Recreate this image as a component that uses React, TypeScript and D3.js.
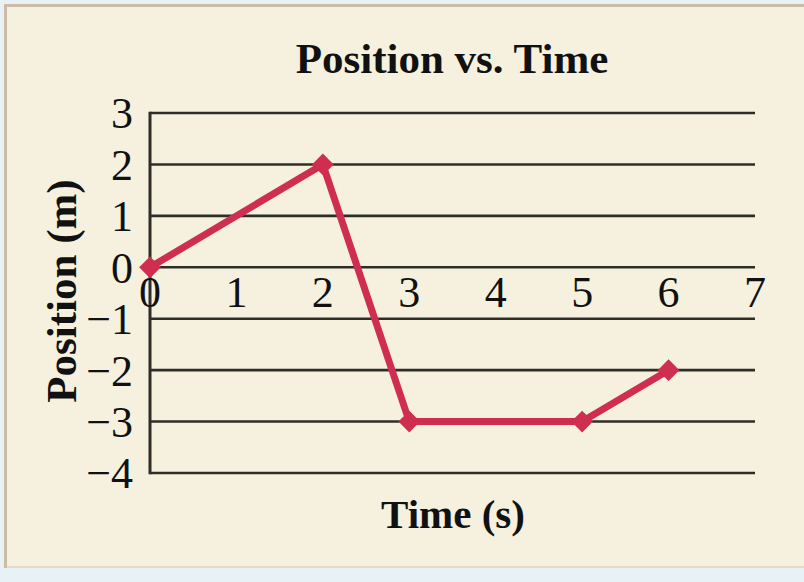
import React from "react";
import * as d3 from "d3";

const timeValues = [0, 2, 3, 5, 6];
const positionValues = [0, 2, -3, -3, -2];
const xTicks = [0, 1, 2, 3, 4, 5, 6, 7];
const yTicks = [3, 2, 1, 0, -1, -2, -3, -4];
const title = "Position vs. Time";
const xLabel = "Time (s)";
const yLabel = "Position (m)";

const W = 804;
const H = 582;
const font = "'Liberation Serif', 'Times New Roman', serif";

export default function App() {
  const x = d3.scaleLinear().domain([0, 7]).range([150, 755]);
  const y = d3.scaleLinear().domain([-4, 3]).range([473, 113]);
  const pts = timeValues.map((t, i) => [x(t), y(positionValues[i])] as [number, number]);
  const line = d3.line()(pts) || "";
  const diamond = d3.symbol().type(d3.symbolDiamond2).size(300)() || "";
  const fmt = (v: number) => (v < 0 ? "\u2212" + Math.abs(v) : String(v));

  return (
    <svg width={W} height={H} style={{ position: "absolute", left: 0, top: 0, display: "block" }}>
      <rect x={0} y={0} width={W} height={H} fill="#e8f1f5" />
      <rect x={4} y={4} width={W - 4} height={564} fill="#f5f1de" />
      <rect x={4} y={566} width={W - 4} height={2} fill="#e6dcc6" />
      <rect x={4} y={4} width={W - 4} height={3} fill="#cbbda4" />
      <rect x={4} y={4} width={3} height={564} fill="#cbbda4" />

      {yTicks.map((v) => (
        <line key={"g" + v} x1={x(0)} x2={x(7)} y1={y(v)} y2={y(v)} stroke="#2f2d28" strokeWidth={2.6} />
      ))}
      <line x1={x(0)} x2={x(0)} y1={y(3) - 1.3} y2={y(-4) + 1.3} stroke="#2f2d28" strokeWidth={3} />

      {yTicks.map((v) => (
        <text key={"yl" + v} x={133} y={y(v)} dy="0.35em" textAnchor="end" fontFamily={font} fontSize={44} fill="#111">
          {fmt(v)}
        </text>
      ))}
      {xTicks.map((v) => (
        <text key={"xl" + v} x={x(v)} y={307} textAnchor="middle" fontFamily={font} fontSize={44} fill="#111">
          {fmt(v)}
        </text>
      ))}

      <path d={line} fill="none" stroke="#cf2e50" strokeWidth={7} strokeLinejoin="miter" />
      {pts.map((p, i) => (
        <path key={"m" + i} d={diamond} transform={`translate(${p[0]},${p[1]})`} fill="#cf2e50" />
      ))}

      <text x={452} y={73} textAnchor="middle" fontFamily={font} fontWeight="bold" fontSize={43} fill="#111">
        {title}
      </text>
      <text x={453} y={528} textAnchor="middle" fontFamily={font} fontWeight="bold" fontSize={41} fill="#111">
        {xLabel}
      </text>
      <text transform={`translate(76,291) rotate(-90)`} textAnchor="middle" fontFamily={font} fontWeight="bold" fontSize={43} fill="#111">
        {yLabel}
      </text>
    </svg>
  );
}
